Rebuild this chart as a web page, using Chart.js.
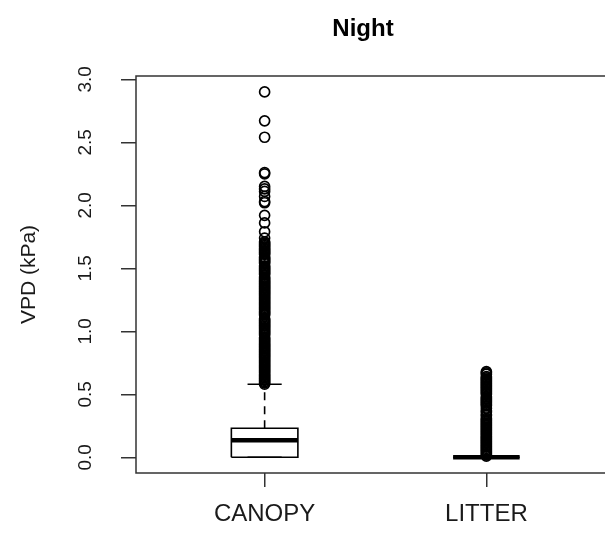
<!DOCTYPE html>
<html>
<head>
<meta charset="utf-8">
<title>Night</title>
<script src="https://cdn.jsdelivr.net/npm/chart.js@4.4.1/dist/chart.umd.min.js"></script>
<style>
    html, body { margin: 0; padding: 0; background: #fff; overflow: hidden; }
    #wrap { width: 640px; height: 535px; }
</style>
</head>
<body>
<div id="wrap"><canvas id="chart" width="640" height="535"></canvas></div>
<script>
// Data
const groups = ['CANOPY', 'LITTER'];
const q1 = [0.00, 0.00];
const medians = [0.135, 0.00];
const q3 = [0.23, 0.00];
const whiskerLow = [0.00, 0.00];
const whiskerHigh = [0.58, 0.00];

const canopyOutliers = [
    2.90, 2.67, 2.54, 2.26, 2.25, 2.15, 2.13, 2.11, 2.07, 2.03, 2.02, 1.92, 1.86, 1.79, 1.74,
    1.71, 1.70, 1.69, 1.68, 1.67, 1.66, 1.65, 1.64, 1.63, 1.62, 1.61, 1.59, 1.58, 1.57, 1.56,
    1.55, 1.54, 1.52, 1.51, 1.50, 1.49, 1.48, 1.47, 1.46, 1.45, 1.43, 1.42, 1.41, 1.40, 1.39,
    1.38, 1.37, 1.36, 1.35, 1.34, 1.33, 1.32, 1.31, 1.30, 1.29, 1.28, 1.27, 1.26, 1.25, 1.24,
    1.23, 1.22, 1.21, 1.20, 1.19, 1.18, 1.17, 1.16, 1.15, 1.14, 1.13, 1.10, 1.09, 1.08, 1.07,
    1.06, 1.05, 1.04, 1.03, 1.02, 1.01, 1.00, 0.99, 0.98, 0.97, 0.95, 0.94, 0.93, 0.92, 0.91,
    0.90, 0.89, 0.88, 0.87, 0.86, 0.85, 0.84, 0.83, 0.82, 0.81, 0.80, 0.79, 0.78, 0.77, 0.76,
    0.75, 0.74, 0.73, 0.72, 0.71, 0.70, 0.69, 0.68, 0.67, 0.66, 0.65, 0.64, 0.63, 0.62, 0.61,
    0.60, 0.59, 0.58
];

const litterOutliers = [
    0.68, 0.67, 0.66, 0.64, 0.63, 0.62, 0.61, 0.60, 0.59, 0.58, 0.57, 0.56, 0.55, 0.54, 0.53,
    0.52, 0.51, 0.50, 0.48, 0.47, 0.46, 0.45, 0.44, 0.43, 0.42, 0.41, 0.39, 0.37, 0.36, 0.34,
    0.33, 0.31, 0.30, 0.29, 0.28, 0.27, 0.26, 0.25, 0.24, 0.23, 0.22, 0.21, 0.20, 0.19, 0.18,
    0.17, 0.16, 0.15, 0.14, 0.13, 0.12, 0.11, 0.10, 0.09, 0.08, 0.07, 0.06, 0.05, 0.04, 0.03,
    0.02, 0.01
];

const yTicks = [0, 0.5, 1.0, 1.5, 2.0, 2.5, 3.0];
const titleText = 'Night';
const yTitle = 'VPD (kPa)';

const BOX_HALF = 0.15;
const CAP_HALF = 0.077;
const FONT = '"Liberation Sans", Arial, sans-serif';

// Build the boxplot out of line segments
const datasets = [];

function addSegment(points, extra) {
    datasets.push(Object.assign({
        type: 'line',
        data: points,
        showLine: true,
        pointRadius: 0,
        borderColor: '#000',
        borderWidth: 1.6,
        borderJoinStyle: 'miter',
        fill: false,
        tension: 0
    }, extra));
}

[canopyOutliers, litterOutliers].forEach((outs, i) => {
    datasets.push({
        type: 'scatter',
        data: outs.map(v => ({ x: i + 1, y: v })),
        pointStyle: 'circle',
        pointRadius: 5,
        pointBorderWidth: 1.7,
        pointBackgroundColor: 'rgba(0,0,0,0)',
        pointBorderColor: '#000',
        showLine: false
    });
});

groups.forEach((g, i) => {
    const x = i + 1;
    addSegment([
        { x: x - BOX_HALF, y: q1[i] }, { x: x + BOX_HALF, y: q1[i] },
        { x: x + BOX_HALF, y: q3[i] }, { x: x - BOX_HALF, y: q3[i] },
        { x: x - BOX_HALF, y: q1[i] }
    ]);
    addSegment([{ x, y: q3[i] }, { x, y: whiskerHigh[i] }], { borderDash: [8, 6] });
    addSegment([{ x, y: whiskerLow[i] }, { x, y: q1[i] }], { borderDash: [8, 6] });
    addSegment([{ x: x - CAP_HALF, y: whiskerHigh[i] }, { x: x + CAP_HALF, y: whiskerHigh[i] }]);
    addSegment([{ x: x - CAP_HALF, y: whiskerLow[i] }, { x: x + CAP_HALF, y: whiskerLow[i] }]);
    addSegment([{ x: x - BOX_HALF, y: medians[i] }, { x: x + BOX_HALF, y: medians[i] }],
        { borderWidth: 4.5, borderCapStyle: 'butt' });
});

// Frame, title, rotated tick labels
const decorations = {
    id: 'decorations',
    afterDraw(chart) {
        const { ctx, chartArea: a, scales } = chart;
        ctx.save();
        ctx.strokeStyle = '#333';
        ctx.lineWidth = 1.5;
        ctx.strokeRect(a.left, a.top, a.right - a.left, a.bottom - a.top);

        ctx.fillStyle = '#1a1a1a';
        ctx.font = '19px ' + FONT;
        ctx.textAlign = 'center';
        ctx.textBaseline = 'middle';
        yTicks.forEach(v => {
            const py = scales.y.getPixelForValue(v);
            ctx.save();
            ctx.translate(a.left - 50, py);
            ctx.rotate(-Math.PI / 2);
            ctx.fillText(v.toFixed(1), 0, 0);
            ctx.restore();
        });

        ctx.font = '21px ' + FONT;
        ctx.save();
        ctx.translate(a.left - 107, (a.top + a.bottom) / 2);
        ctx.rotate(-Math.PI / 2);
        ctx.fillText(yTitle, 0, 0);
        ctx.restore();

        ctx.fillStyle = '#000';
        ctx.font = 'bold 24px ' + FONT;
        ctx.fillText(titleText, 363, 29);
        ctx.restore();
    }
};

new Chart(document.getElementById('chart'), {
    type: 'scatter',
    data: { datasets },
    options: {
        responsive: false,
        animation: false,
        events: [],
        layout: { padding: { left: 0, top: 76, right: 25, bottom: 0 } },
        plugins: {
            legend: { display: false },
            tooltip: { enabled: false }
        },
        scales: {
            x: {
                type: 'linear',
                min: 0.42,
                max: 2.58,
                afterBuildTicks: s => { s.ticks = [{ value: 1 }, { value: 2 }]; },
                afterFit: s => { s.height = 62; },
                ticks: {
                    callback: (v, i) => groups[i],
                    font: { size: 24, family: FONT },
                    color: '#1a1a1a',
                    padding: 13,
                    maxRotation: 0,
                    autoSkip: false
                },
                grid: { drawOnChartArea: false, tickLength: 14, color: '#333', lineWidth: 1.5 },
                border: { display: false }
            },
            y: {
                type: 'linear',
                min: -0.1246,
                max: 3.026,
                afterBuildTicks: s => { s.ticks = yTicks.map(v => ({ value: v })); },
                afterFit: s => { s.width = 136; },
                ticks: { display: false },
                grid: { drawOnChartArea: false, tickLength: 15, color: '#333', lineWidth: 1.5 },
                border: { display: false }
            }
        }
    },
    plugins: [decorations]
});
</script>
</body>
</html>
